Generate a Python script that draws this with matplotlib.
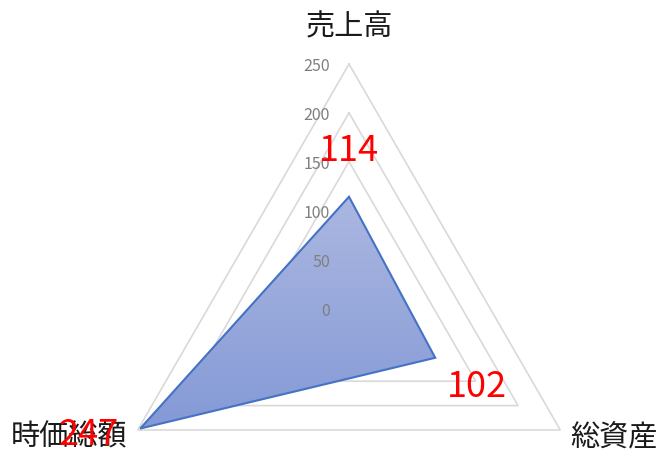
import numpy as np
import matplotlib
matplotlib.use("Agg")
import matplotlib.pyplot as plt
from matplotlib.patches import Polygon
from matplotlib.colors import LinearSegmentedColormap

plt.rcParams['font.family'] = ['Noto Sans CJK JP', 'DejaVu Sans']

categories = ['売上高', '総資産', '時価総額']
values = [114, 102, 247]
ticks = [0, 50, 100, 150, 200, 250]
rmax = 250

n = len(categories)
theta = 2 * np.pi * np.arange(n) / n


def xy(r):
    r = np.asarray(r, dtype=float)
    return r * np.sin(theta), r * np.cos(theta)


fig = plt.figure(figsize=(6.7, 4.63), dpi=100)
ax = fig.add_axes([0, 0, 1, 1])
scale = 244 / 250.0
cx, cy = 349, 308
ax.axis('off')

# grid triangles
for t in ticks[1:]:
    gx, gy = xy([t] * n)
    ax.plot(np.append(gx, gx[0]), np.append(gy, gy[0]), color='#d9d9d9', lw=1.2, zorder=1,
            solid_joinstyle='miter')

# data polygon with gradient
px, py = xy(values)
poly = Polygon(np.column_stack([px, py]), closed=True, facecolor='none',
               edgecolor='#4472c4', lw=1.5, zorder=4, joinstyle='miter')
ax.add_patch(poly)
cmap = LinearSegmentedColormap.from_list('g', ['#8499d6', '#abb7e1'])
grad = np.linspace(0, 1, 256).reshape(-1, 1)
im = ax.imshow(grad, cmap=cmap, origin='lower', aspect='auto',
               extent=[px.min(), px.max(), py.min(), py.max()], zorder=3)
clip = Polygon(np.column_stack([px, py]), closed=True, transform=ax.transData)
im.set_clip_path(clip)
ax.set_xlim(-cx / scale, (670 - cx) / scale)
ax.set_ylim(-(463 - cy) / scale, cy / scale)

# tick labels
for t in ticks:
    ax.annotate(str(t), xy=(0, t), xytext=(-19, -3), textcoords='offset pixels',
                ha='right', va='center', fontsize=11.5, color='#7f7f7f', zorder=6)

# category labels
vx, vy = xy([rmax] * n)
cat_off = [(0, 37), (54, -8), (-69, -7)]
for i, c in enumerate(categories):
    ax.annotate(c, xy=(vx[i], vy[i]), xytext=cat_off[i], textcoords='offset pixels',
                ha='center', va='center', fontsize=21, color='#1a1a1a', zorder=6)

# data labels
dl_off = [(0, 46), (42, -29), (-52, -6)]
for i, v in enumerate(values):
    ax.annotate(str(v), xy=(px[i], py[i]), xytext=dl_off[i], textcoords='offset pixels',
                ha='center', va='center', fontsize=26, color='#ff0000', zorder=7)

fig.savefig('out.png', dpi=100)
